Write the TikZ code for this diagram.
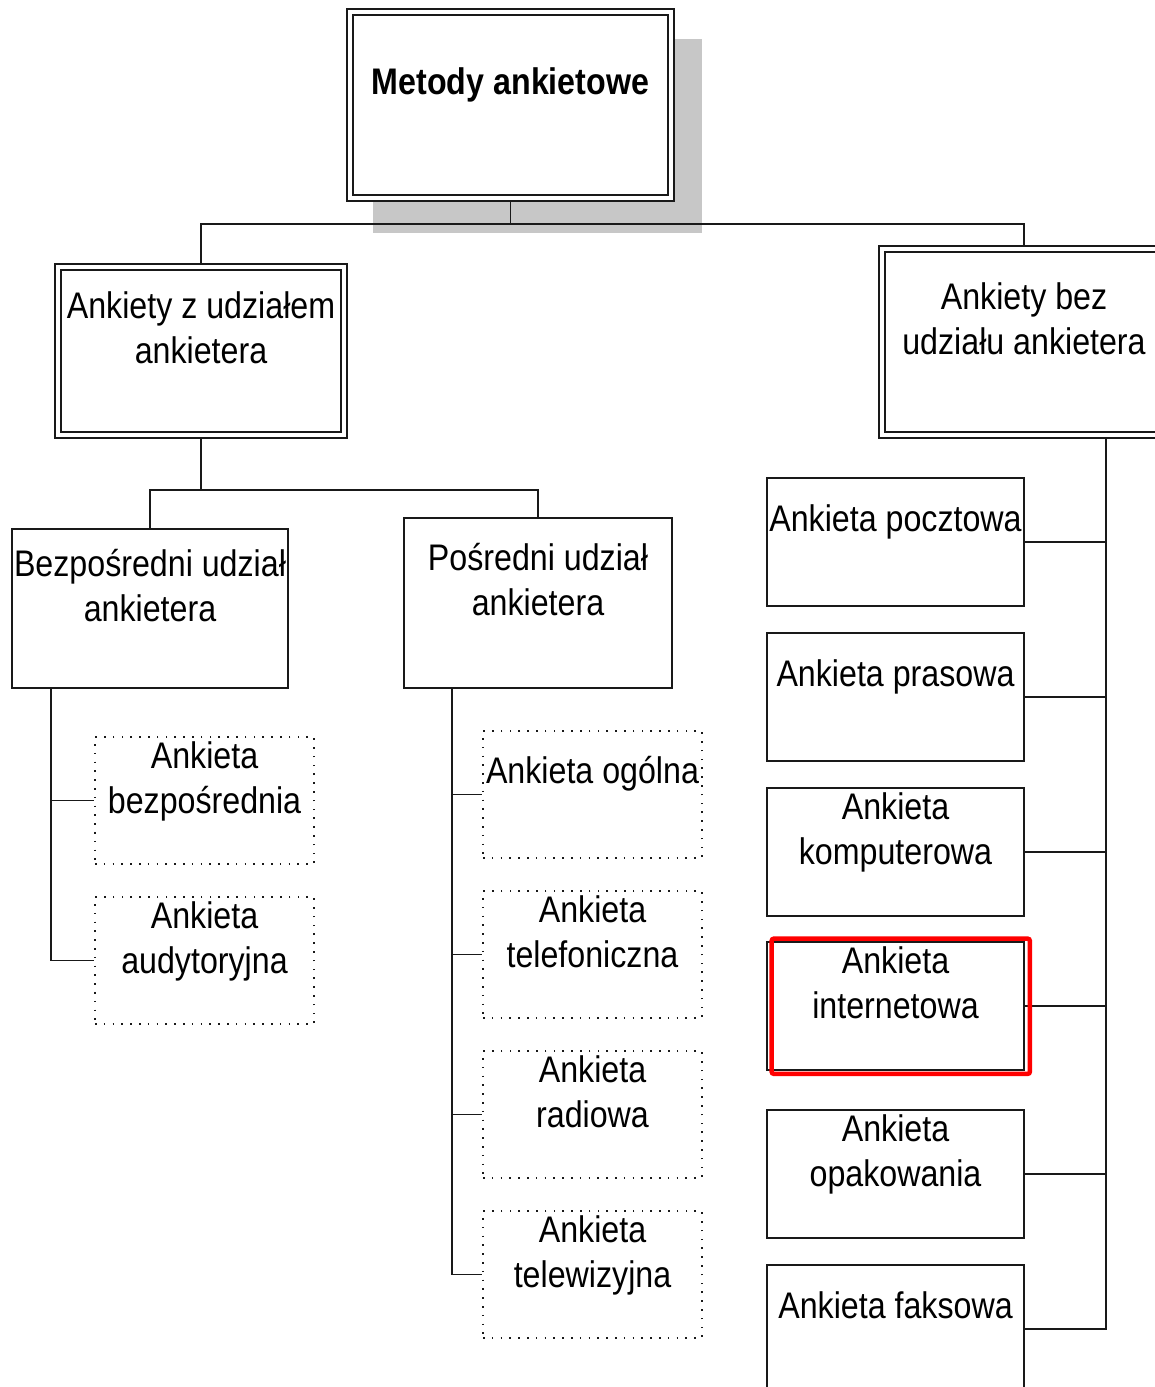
\documentclass[tikz,border=0pt]{standalone}
\usepackage{fontspec}
\setmainfont{Liberation Sans}[FakeStretch=0.87]

\begin{document}
\begin{tikzpicture}[x=1pt, y=-1pt, node distance=155pt, font=\fontsize{37}{45}\selectfont]
	\tikzstyle{headbox} = [rectangle, draw=black!90, double, double distance=4.4pt, line width=1.6pt, fill=white, inner sep=0pt, align=center]
	\tikzstyle{leafbox} = [rectangle, draw=black!90, line width=1.6pt, minimum width=257pt, minimum height=128pt, inner sep=0pt, align=center]
	\tikzstyle{dotbox} = [rectangle, draw=black!90, line width=1.6pt, dash pattern=on 1.6pt off 7.2pt, minimum width=219pt, minimum height=127pt, inner sep=0pt, align=center]
	\tikzstyle{oneline} = [text height=0pt, text depth=22pt]
	\tikzstyle{twoline} = [text height=25pt, text depth=0pt]
	\tikzstyle{link} = [line width=1.6pt, draw=black!90]
	\useasboundingbox (0,0) rectangle (1155,1387);
	\clip (0,0) rectangle (1155,1387);
	\fill [black!22] (373,39) rectangle (702,233);
	\node (metody) [headbox, oneline, minimum width=321pt, minimum height=186pt] at (510.5,105) {\bfseries Metody ankietowe};
	\node (zUdzialem) [headbox, twoline, minimum width=286pt, minimum height=168pt] at (201,351) {Ankiety z udziałem\\ankietera};
	\node (bezUdzialu) [headbox, twoline, minimum width=284pt, minimum height=186pt] at (1024,342) {Ankiety bez\\udziału ankietera};
	\node (bezposredni) [leafbox, twoline, minimum width=276pt, minimum height=159pt] at (150,608.5) {Bezpośredni udział\\ankietera};
	\node (posredni) [leafbox, twoline, minimum width=268pt, minimum height=170pt] at (538,603) {Pośredni udział\\ankietera};
	\node (bezposrednia) [dotbox, twoline] at (204.5,800.5) {Ankieta\\bezpośrednia};
	\node (audytoryjna) [dotbox, twoline, node distance=160pt, below of=bezposrednia] {Ankieta\\audytoryjna};
	\node (ogolna) [dotbox, oneline] at (592.5,794.5) {Ankieta ogólna};
	\node (telefoniczna) [dotbox, twoline, node distance=160pt, below of=ogolna] {Ankieta\\telefoniczna};
	\node (radiowa) [dotbox, twoline, node distance=160pt, below of=telefoniczna] {Ankieta\\radiowa};
	\node (telewizyjna) [dotbox, twoline, node distance=160pt, below of=radiowa] {Ankieta\\telewizyjna};
	\node (pocztowa) [leafbox, oneline] at (895.5,542) {Ankieta pocztowa};
	\node (prasowa) [leafbox, oneline, below of=pocztowa] {Ankieta prasowa};
	\node (komputerowa) [leafbox, twoline, below of=prasowa] {Ankieta\\komputerowa};
	\node (internetowa) [leafbox, twoline, node distance=154pt, below of=komputerowa] {Ankieta\\internetowa};
	\node (opakowania) [leafbox, twoline, node distance=168pt, below of=internetowa] {Ankieta\\opakowania};
	\node (faksowa) [leafbox, oneline, below of=opakowania] {Ankieta faksowa};
	\coordinate (split1) at (510.5,224);
	\coordinate (split2) at (201,490);
	\coordinate (trunkB) at ([xshift=40pt]bezposredni.south west);
	\coordinate (trunkP) at ([xshift=49pt]posredni.south west);
	\coordinate (trunkR) at ([xshift=82pt]bezUdzialu.south);
	\draw [link, shorten <=3.6pt] (metody.south) -- (split1);
	\draw [link, shorten >=3.6pt] (split1) -| (zUdzialem.north);
	\draw [link, shorten >=3.6pt] (split1) -| (bezUdzialu.north);
	\draw [link, shorten <=3.6pt] (zUdzialem.south) -- (split2);
	\draw [link] (split2) -| (bezposredni.north);
	\draw [link] (split2) -| (posredni.north);
	\draw [link] (trunkB) |- (bezposrednia.west);
	\draw [link] (trunkB) |- (audytoryjna.west);
	\draw [link] (trunkP) |- (ogolna.west);
	\draw [link] (trunkP) |- (telefoniczna.west);
	\draw [link] (trunkP) |- (radiowa.west);
	\draw [link] (trunkP) |- (telewizyjna.west);
	\draw [link, shorten <=3.6pt] (trunkR) |- (pocztowa.east);
	\draw [link, shorten <=3.6pt] (trunkR) |- (prasowa.east);
	\draw [link, shorten <=3.6pt] (trunkR) |- (komputerowa.east);
	\draw [link, shorten <=3.6pt] (trunkR) |- (internetowa.east);
	\draw [link, shorten <=3.6pt] (trunkR) |- (opakowania.east);
	\draw [link, shorten <=3.6pt] (trunkR) |- (faksowa.east);
	\draw [line width=4.5pt, red, rounded corners=2pt] ([xshift=5.5pt, yshift=2.5pt]internetowa.north west) rectangle ([xshift=5pt, yshift=-3pt]internetowa.south east);
\end{tikzpicture}
\end{document}
